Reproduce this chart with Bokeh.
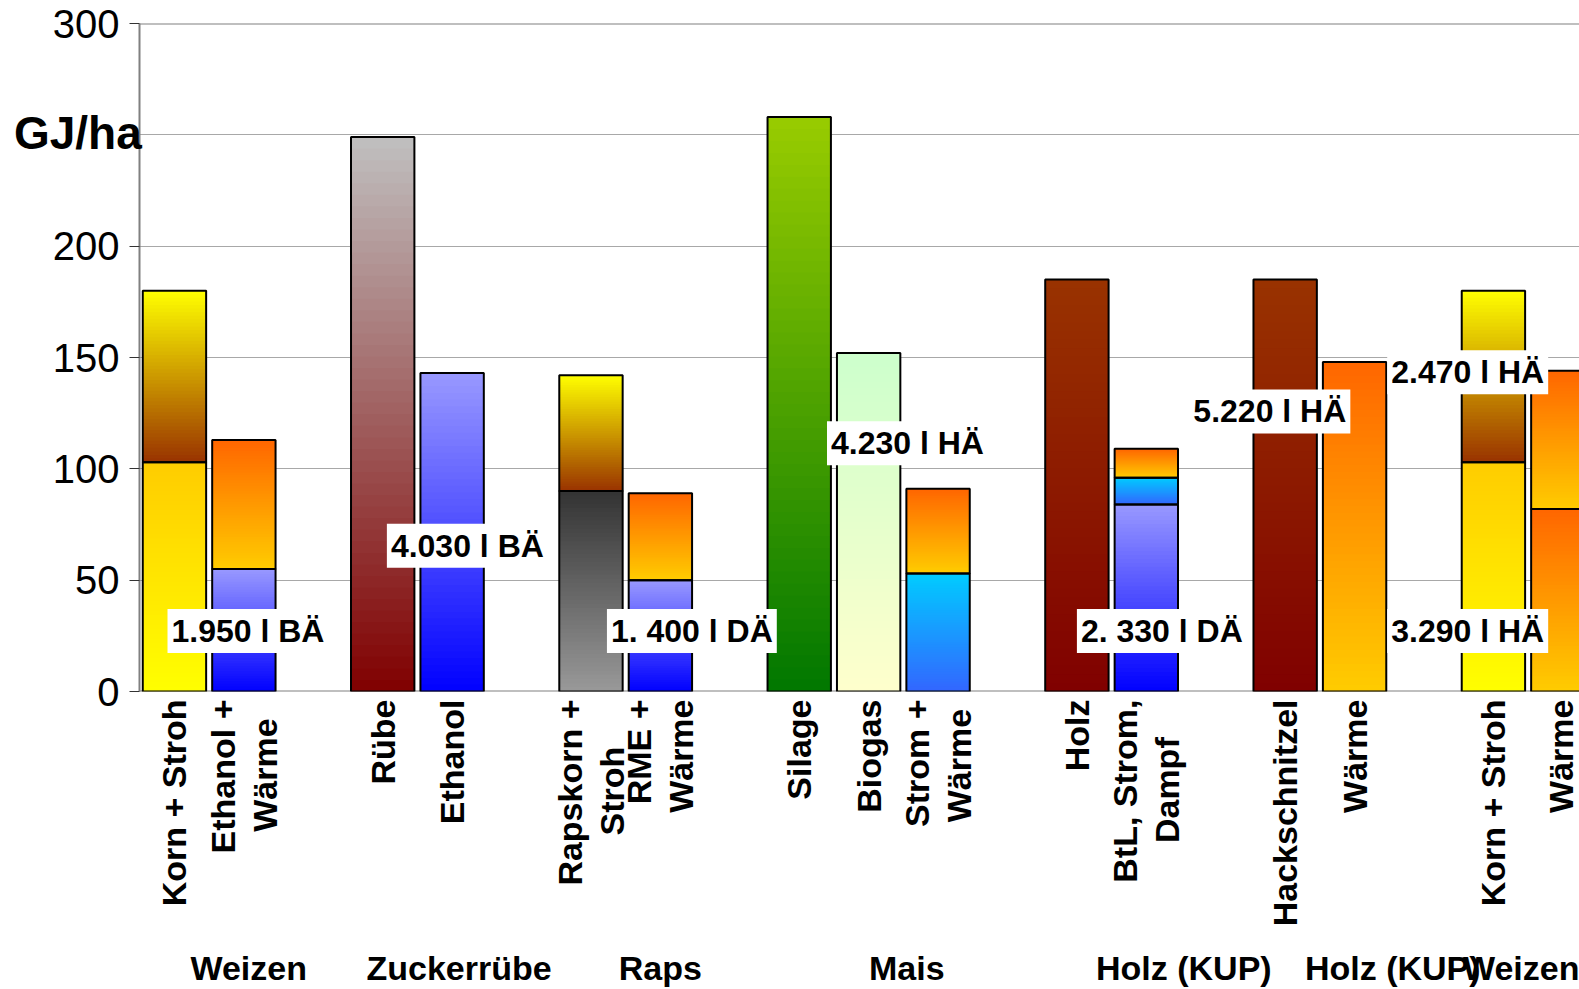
import math
from bokeh.plotting import figure
from bokeh.models import Label, Range1d, Span, FixedTicker, ColumnDataSource, LinearAxis
from bokeh.embed import file_html
from bokeh.resources import INLINE

NB = "\u00a0"

# ---------------- data ----------------
bar_names = ["Korn + Stroh", "Ethanol +\nWärme" + NB * 2, "Rübe", "Ethanol",
             "Rapskorn +\nStroh" + NB * 5, "RME +\nWärme", "Silage", "Biogas",
             "Strom +\nWärme" + NB, "Holz", "BtL, Strom,\nDampf" + NB * 4, "Hackschnitzel",
             "Wärme", "Korn + Stroh", "Wärme"]
bar_slots = [0, 1, 3, 4, 6, 7, 9, 10, 11, 13, 14, 16, 17, 19, 20]

seg1_vals = [103, 55, 249, 143, 90, 50, 258, 152, 53, 185, 84, 185, 148, 103, 82]
seg2_vals = [77, 58, 0, 0, 52, 39, 0, 0, 38, 0, 12, 0, 0, 77, 62]
seg3_vals = [0, 0, 0, 0, 0, 0, 0, 0, 0, 0, 13, 0, 0, 0, 0]

seg1_kind = ["korn", "ethanol", "ruebe", "ethanol", "rapskorn", "ethanol", "silage",
             "biogas", "strom", "holz", "ethanol", "holz", "waerme", "korn", "waerme"]
seg2_kind = ["stroh", "waerme", None, None, "stroh", "waerme", None, None, "waerme",
             None, "strom", None, None, "stroh", "waerme"]
seg3_kind = [None] * 10 + ["waerme"] + [None] * 4

group_names = ["Weizen", "Zuckerrübe", "Raps", "Mais", "Holz (KUP)", "Holz (KUP)", "Weizen"]
group_pos = [1.07, 4.1, 7.0, 10.55, 14.54, 17.55, 19.65]

note_texts = ["1.950 l BÄ", "4.030 l BÄ", "1. 400 l DÄ", "4.230 l HÄ",
              "2. 330 l DÄ", "5.220 l HÄ", "2.470 l HÄ", "3.290 l HÄ"]
note_x = [-0.10, 3.06, 6.23, 9.40, 13.00, 14.62, 17.47, 17.47]
note_y = [27.2, 65.5, 27.2, 111.5, 27.2, 125.8, 143.4, 27.2]

y_ticks = [0, 50, 100, 150, 200, 300]
y_grid = [0, 50, 100, 150, 200, 250, 300]
y_unit = "GJ/ha"

# gradient colours (bottom, top)
GRAD = {
    "korn": ("#ffff00", "#ffcc00"),
    "stroh": ("#993300", "#ffff00"),
    "ethanol": ("#0000ff", "#9999ff"),
    "waerme": ("#ffcc00", "#ff6600"),
    "ruebe": ("#800000", "#c0c0c0"),
    "rapskorn": ("#999999", "#333333"),
    "silage": ("#007700", "#99cc00"),
    "biogas": ("#ffffcc", "#ccffcc"),
    "strom": ("#3366ff", "#00ccff"),
    "holz": ("#800000", "#993300"),
}

FONT = "Liberation Sans"
BW = 0.913
N = 48


def hex2rgb(h):
    return tuple(int(h[i:i + 2], 16) for i in (1, 3, 5))


def mix(c0, c1, t):
    return "#%02x%02x%02x" % tuple(int(round(a + (b - a) * t)) for a, b in zip(c0, c1))


strips = dict(left=[], right=[], bottom=[], top=[], color=[])
outl = dict(left=[], right=[], bottom=[], top=[])
for i, slot in enumerate(bar_slots):
    base = 0.0
    for vals, kinds in ((seg1_vals, seg1_kind), (seg2_vals, seg2_kind), (seg3_vals, seg3_kind)):
        v = vals[i]
        k = kinds[i]
        if not v or k is None:
            continue
        c0, c1 = hex2rgb(GRAD[k][0]), hex2rgb(GRAD[k][1])
        top = base + v
        for j in range(N):
            strips["left"].append(slot - BW / 2)
            strips["right"].append(slot + BW / 2)
            strips["bottom"].append(base + v * j / N)
            strips["top"].append(top)
            strips["color"].append(mix(c0, c1, (j + 0.5) / N))
        outl["left"].append(slot - BW / 2)
        outl["right"].append(slot + BW / 2)
        outl["bottom"].append(base)
        outl["top"].append(top)
        base = top

p = figure(width=1579, height=989, output_backend="svg", toolbar_location=None,
           x_range=Range1d(-0.5035, 20.24), y_range=Range1d(0, 300),
           min_border_left=139, min_border_right=0, min_border_top=23,
           min_border_bottom=298)
p.outline_line_color = None
p.background_fill_color = "white"
p.border_fill_color = "white"

# ---- y axis ----
ya = p.yaxis[0]
ya.ticker = FixedTicker(ticks=y_ticks)
ya.minor_tick_line_color = None
ya.major_tick_out = 10
ya.major_tick_in = 0
ya.major_tick_line_color = "#333333"
ya.major_tick_line_width = 1
ya.axis_line_color = "#808080"
ya.axis_line_width = 2
ya.major_label_standoff = 10
ya.major_label_text_font = FONT
ya.major_label_text_font_size = "40px"
ya.major_label_text_color = "black"
ya.axis_label = y_unit + "\n " * 8
ya.axis_label_orientation = "horizontal"
ya.axis_label_text_font = FONT
ya.axis_label_text_font_style = "bold"
ya.axis_label_text_font_size = "46px"
ya.axis_label_text_color = "black"
ya.axis_label_text_line_height = 1.081
ya.axis_label_standoff = -92

p.xgrid.visible = False
p.ygrid.ticker = FixedTicker(ticks=y_grid)
p.ygrid.grid_line_color = "#a8a8a8"
p.ygrid.grid_line_width = 1

# ---- x axis: category labels ----
xa = p.xaxis[0]
xa.ticker = FixedTicker(ticks=bar_slots)
xa.major_label_overrides = {s: n for s, n in zip(bar_slots, bar_names)}
xa.major_label_orientation = math.pi / 2
xa.axis_line_color = None
xa.major_tick_line_color = None
xa.minor_tick_line_color = None
xa.major_tick_out = 0
xa.major_label_standoff = 8
xa.major_label_text_font = FONT
xa.major_label_text_font_style = "bold"
xa.major_label_text_font_size = "34px"
xa.major_label_text_color = "black"
xa.major_label_text_line_height = 1.1

# ---- second x axis: group labels ----
ga = LinearAxis(ticker=FixedTicker(ticks=group_pos),
                major_label_overrides={g: n for g, n in zip(group_pos, group_names)})
ga.axis_line_color = None
ga.major_tick_line_color = None
ga.minor_tick_line_color = None
ga.major_tick_out = 0
ga.major_label_standoff = 19
ga.major_label_text_font = FONT
ga.major_label_text_font_style = "bold"
ga.major_label_text_font_size = "34px"
ga.major_label_text_color = "black"
p.add_layout(ga, "below")

for yv in (0, 300):
    p.add_layout(Span(location=yv, dimension="width", line_color="#808080",
                      line_width=2, level="underlay"))

p.quad(left="left", right="right", bottom="bottom", top="top",
       fill_color="color", line_color=None, source=ColumnDataSource(strips))
p.quad(left="left", right="right", bottom="bottom", top="top",
       fill_color=None, line_color="black", line_width=2,
       source=ColumnDataSource(outl))

# notes with white boxes
for t, nx, ny in zip(note_texts, note_x, note_y):
    p.add_layout(Label(x=nx, y=ny, text=t, text_align="left", text_baseline="middle",
                       text_font=FONT, text_font_style="bold", text_font_size="32px",
                       text_color="black", background_fill_color="white",
                       padding=4))

open("out.html", "w").write(file_html(p, INLINE))
